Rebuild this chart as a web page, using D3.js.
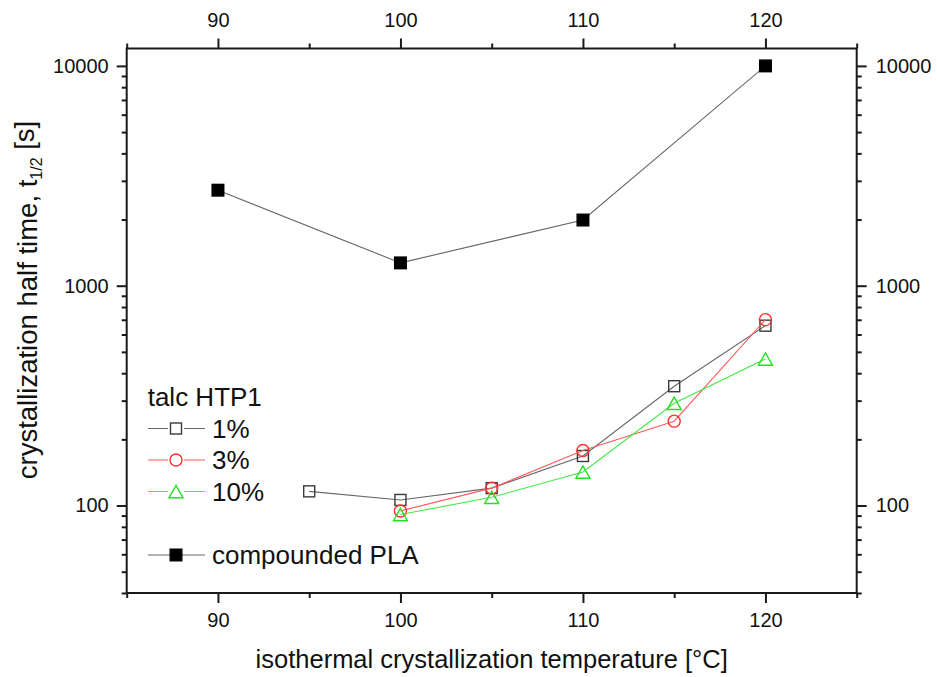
<!DOCTYPE html>
<html>
<head>
<meta charset="utf-8">
<script src="https://cdn.jsdelivr.net/npm/d3@7"></script>
<style>
  body { margin: 0; background: #fff; }
  svg { display: block; font-family: "Liberation Sans", Arial, sans-serif; }
  .tick text { font-size: 20px; fill: #111; }
  .tick line { stroke: #1a1a1a; stroke-width: 2; }
</style>
</head>
<body>
<svg id="chart" width="937" height="677"></svg>
<script>
'use strict';

// data
var plaTemps = [90, 100, 110, 120];
var plaTimes = [2720, 1270, 1990, 10000];

var talc1Temps = [95, 100, 105, 110, 115, 120];
var talc1Times = [116, 106, 120, 168, 349, 658];

var talc3Temps = [100, 105, 110, 115, 120];
var talc3Times = [94.5, 120, 178, 242, 701];

var talc10Temps = [100, 105, 110, 115, 120];
var talc10Times = [91, 109, 142, 292, 464];

var xMajorTicks = [90, 100, 110, 120];
var xMinorTicks = [85, 95, 105, 115, 125];
var yMajorTicks = [100, 1000, 10000];

var series = [
  {name: '1%', temps: talc1Temps, times: talc1Times, shape: 'square', stroke: '#3a3a3a', line: '#666', fill: 'none'},
  {name: '3%', temps: talc3Temps, times: talc3Times, shape: 'circle', stroke: '#ff3030', line: '#ff5a5a', fill: 'none'},
  {name: '10%', temps: talc10Temps, times: talc10Times, shape: 'triangle', stroke: '#22e022', line: '#44e844', fill: 'none'}
];
var plaSeries = {name: 'compounded PLA', temps: plaTemps, times: plaTimes, shape: 'square', stroke: '#000', line: '#666', fill: '#000'};

var plotLeft = 126.7, plotRight = 856.7, plotTop = 48.5, plotBottom = 593;

var svg = d3.select('#chart');

var x = d3.scaleLinear().domain([85, 125]).range([plotLeft, plotRight]);
var y = d3.scaleLog().domain([40, 12000]).range([plotBottom, plotTop]);

var yMinorTicks = [];
[10, 100, 1000, 10000].forEach(function (dec) {
  for (var k = 2; k <= 9; k++) {
    var v = dec * k;
    if (v >= 40 && v <= 12000 && yMajorTicks.indexOf(v) < 0) yMinorTicks.push(v);
  }
});

function addAxis(axis, tx, ty) {
  var g = svg.append('g')
    .attr('transform', 'translate(' + tx + ',' + ty + ')')
    .call(axis);
  g.select('.domain').remove();
  return g;
}
var fmt = function (d) { return String(d); };
var none = function () { return ''; };

addAxis(d3.axisBottom(x).tickValues(xMajorTicks).tickSize(10).tickPadding(10).tickFormat(fmt), 0, plotBottom);
addAxis(d3.axisBottom(x).tickValues(xMinorTicks).tickSize(5).tickFormat(none), 0, plotBottom);
addAxis(d3.axisTop(x).tickValues(xMajorTicks).tickSize(10).tickPadding(12).tickFormat(fmt), 0, plotTop);
addAxis(d3.axisTop(x).tickValues(xMinorTicks).tickSize(5).tickFormat(none), 0, plotTop);
addAxis(d3.axisLeft(y).tickValues(yMajorTicks).tickSize(10).tickPadding(8).tickFormat(fmt), plotLeft, 0);
addAxis(d3.axisLeft(y).tickValues(yMinorTicks).tickSize(5).tickFormat(none), plotLeft, 0);
addAxis(d3.axisRight(y).tickValues(yMajorTicks).tickSize(10).tickPadding(9).tickFormat(fmt), plotRight, 0);
addAxis(d3.axisRight(y).tickValues(yMinorTicks).tickSize(5).tickFormat(none), plotRight, 0);

svg.append('rect')
  .attr('x', plotLeft).attr('y', plotTop)
  .attr('width', plotRight - plotLeft).attr('height', plotBottom - plotTop)
  .attr('fill', 'none').attr('stroke', '#1a1a1a').attr('stroke-width', 2);

// axis titles
svg.append('text')
  .attr('x', (plotLeft + plotRight) / 2).attr('y', 668)
  .attr('text-anchor', 'middle')
  .style('font-size', '25.5px').attr('fill', '#111')
  .text('isothermal crystallization temperature [°C]');

var yTitle = svg.append('text')
  .attr('transform', 'translate(37,300) rotate(-90)')
  .attr('text-anchor', 'middle')
  .style('font-size', '27.5px').attr('fill', '#111');
yTitle.append('tspan').text('crystallization half time, t');
yTitle.append('tspan').attr('dy', '0.3em').style('font-size', '16px').text('1/2');
yTitle.append('tspan').attr('dy', '-0.3em').text(' [s]');

function drawMarker(g, shape, cx, cy, s) {
  var sel;
  if (shape === 'square') {
    var h = s.fill === 'none' ? 5.5 : 5.8;
    sel = g.append('rect').attr('x', cx - h).attr('y', cy - h).attr('width', 2 * h).attr('height', 2 * h);
  } else if (shape === 'circle') {
    sel = g.append('circle').attr('cx', cx).attr('cy', cy).attr('r', 6);
  } else {
    var w = 7, ht = 6.2;
    sel = g.append('path').attr('d', 'M' + cx + ',' + (cy - ht) + 'L' + (cx + w) + ',' + (cy + ht) + 'L' + (cx - w) + ',' + (cy + ht) + 'Z');
  }
  sel.attr('fill', s.fill === 'none' ? '#fff' : s.fill)
    .attr('fill-opacity', s.fill === 'none' ? 0 : 1)
    .attr('stroke', s.stroke).attr('stroke-width', 1.4);
}

var line = d3.line()
  .x(function (d) { return x(d[0]); })
  .y(function (d) { return y(d[1]); });

function drawSeries(s) {
  var pts = s.temps.map(function (t, i) { return [t, s.times[i]]; });
  var g = svg.append('g');
  g.append('path')
    .attr('d', line(pts))
    .attr('fill', 'none').attr('stroke', s.line).attr('stroke-width', 1.1);
  pts.forEach(function (p) { drawMarker(g, s.shape, x(p[0]), y(p[1]), s); });
}

drawSeries(plaSeries);
series.forEach(drawSeries);

// legend
var legend = svg.append('g').style('font-size', '26px');
legend.append('text').attr('x', 147.7).attr('y', 405.5).attr('fill', '#111').text('talc HTP1');

var rows = series.map(function (s, i) { return {s: s, cy: [428.5, 460, 491.5][i]}; });
rows.push({s: plaSeries, cy: 555});
rows.forEach(function (r) {
  legend.append('line')
    .attr('x1', 148).attr('x2', 205).attr('y1', r.cy).attr('y2', r.cy)
    .attr('stroke', r.s.line).attr('stroke-width', 1.1);
  if (r.s.fill === 'none') {
    legend.append('rect').attr('x', 168).attr('y', r.cy - 8).attr('width', 16).attr('height', 16).attr('fill', '#fff');
  }
  drawMarker(legend, r.s.shape, 176, r.cy, r.s);
  legend.append('text').attr('x', 212).attr('y', r.cy + 9).attr('fill', '#111').text(r.s.name);
});
</script>
</body>
</html>
